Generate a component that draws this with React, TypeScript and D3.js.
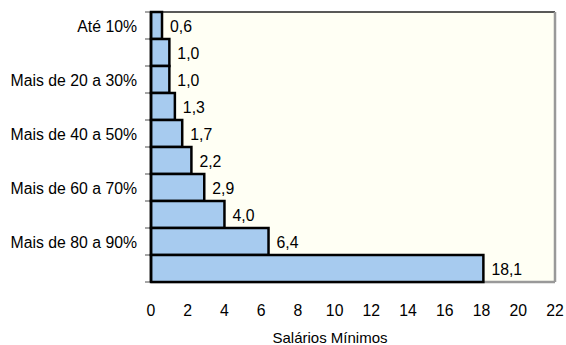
import React from "react";
import * as d3 from "d3";

const categories = [
  "Até 10%",
  "Mais de 10 a 20%",
  "Mais de 20 a 30%",
  "Mais de 30 a 40%",
  "Mais de 40 a 50%",
  "Mais de 50 a 60%",
  "Mais de 60 a 70%",
  "Mais de 70 a 80%",
  "Mais de 80 a 90%",
  "Mais de 90%",
];
const values = [0.6, 1.0, 1.0, 1.3, 1.7, 2.2, 2.9, 4.0, 6.4, 18.1];
const xTicks = [0, 2, 4, 6, 8, 10, 12, 14, 16, 18, 20, 22];
const xTitle = "Salários Mínimos";

const W = 566;
const H = 345;
const left = 151;
const right = 555;
const top = 12;
const bottom = 282;
const font = "'Liberation Sans', Arial, sans-serif";
const fs = 15.8;

export default function App() {
  const x = d3.scaleLinear().domain([0, 22]).range([left, right]);
  const y = d3.scaleBand<string>().domain(categories).range([top, bottom]).padding(0);
  const fmt = (v: number) => v.toFixed(1).replace(".", ",");

  return (
    <svg width={W} height={H} style={{ position: "absolute", left: 0, top: 0 }}>
      <rect x={left} y={top} width={right - left} height={bottom - top} fill="#FFFFF4" />
      {/* frame */}
      <line x1={left} x2={right} y1={top} y2={top} stroke="#222" strokeWidth={1.5} />
      <line x1={right} x2={right} y1={top} y2={bottom} stroke="#999" strokeWidth={2.5} />
      <line x1={left} x2={right} y1={bottom} y2={bottom} stroke="#999" strokeWidth={2.5} />
      {/* y ticks */}
      {d3.range(categories.length + 1).map((i) => {
        const yy = top + i * y.step();
        return <line key={"t" + i} x1={left - 6} x2={left} y1={yy} y2={yy} stroke="#888" strokeWidth={1.5} />;
      })}
      {/* bars */}
      {categories.map((c, i) => (
        <rect
          key={c}
          x={x(0)}
          y={y(c)!}
          width={x(values[i]) - x(0)}
          height={y.bandwidth()}
          fill="#A7CBEF"
          stroke="#000"
          strokeWidth={2.5}
        />
      ))}
      {/* left axis line */}
      <line x1={left} x2={left} y1={top} y2={bottom} stroke="#000" strokeWidth={2.5} />
      {/* value labels */}
      {categories.map((c, i) => (
        <text
          key={"v" + c}
          x={x(values[i]) + 8}
          y={y(c)! + y.bandwidth() / 2 + 6}
          fontFamily={font}
          fontSize={fs}
          fill="#000"
        >
          {fmt(values[i])}
        </text>
      ))}
      {/* category labels */}
      {categories.map((c, i) =>
        i % 2 === 0 ? (
          <text
            key={"c" + c}
            x={137}
            y={y(c)! + y.bandwidth() / 2 + 6}
            textAnchor="end"
            fontFamily={font}
            fontSize={fs}
            fill="#000"
          >
            {c}
          </text>
        ) : null
      )}
      {/* x tick labels */}
      {xTicks.map((t) => (
        <text key={"x" + t} x={x(t)} y={316} textAnchor="middle" fontFamily={font} fontSize={fs} fill="#000">
          {t}
        </text>
      ))}
      <text x={330} y={343} textAnchor="middle" fontFamily={font} fontSize={15} fill="#000">
        {xTitle}
      </text>
    </svg>
  );
}
